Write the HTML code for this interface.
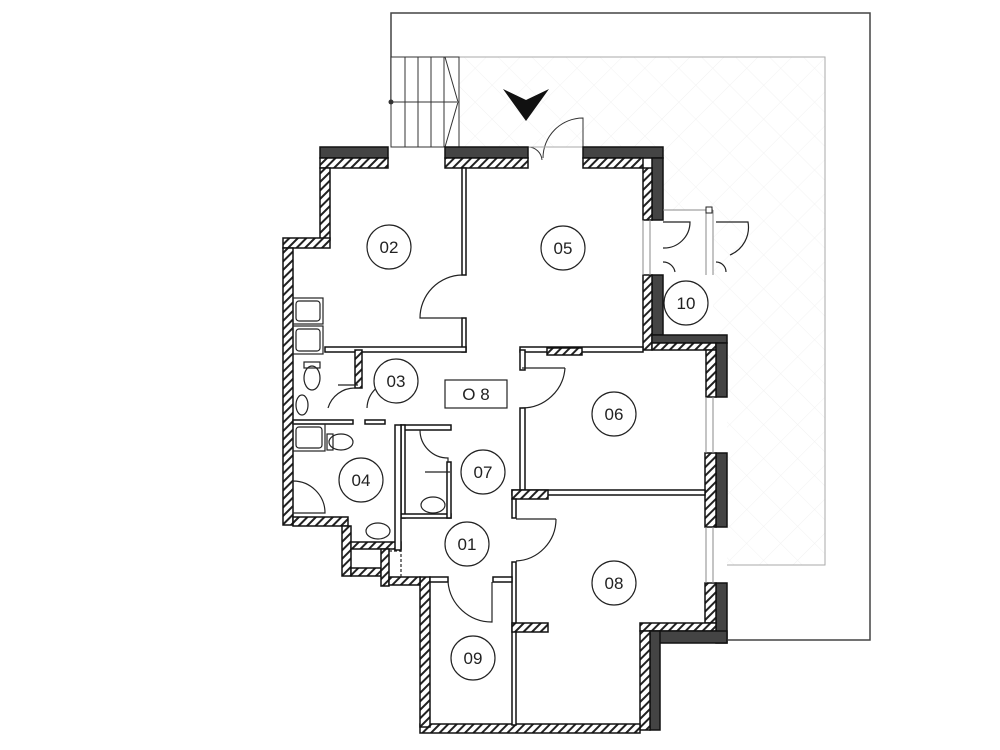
<!DOCTYPE html>
<html><head><meta charset="utf-8"><style>
html,body{margin:0;padding:0;background:#fff}
svg{display:block}
text{font-family:"Liberation Sans",sans-serif;font-size:17px;fill:#222}
</style></head><body>
<svg width="1000" height="750" viewBox="0 0 1000 750" xmlns="http://www.w3.org/2000/svg">
<defs>
<pattern id="h" width="6" height="6" patternUnits="userSpaceOnUse" patternTransform="rotate(45)">
<rect width="6" height="6" fill="#fff"/><rect width="2" height="6" fill="#222"/>
</pattern>
<pattern id="x" width="24" height="24" patternUnits="userSpaceOnUse" patternTransform="rotate(45)">
<rect width="24" height="24" fill="#fff"/><path d="M0 0H24M0 0V24" stroke="#f2f2f2" stroke-width="1"/>
</pattern>
</defs>
<!-- terrace -->
<path d="M391 100V13H870V640H728" fill="none" stroke="#444" stroke-width="1.5"/>
<rect x="459" y="57" width="366" height="508" fill="url(#x)" stroke="#aaa" stroke-width="1"/>
<!-- house interior white -->
<polygon points="283,238 320,238 320,147 663,147 663,210 713,210 713,335 727,335 727,643 660,643 660,733 420,733 420,585 381,585 381,576 342,576 342,525 283,525" fill="#fff"/>
<!-- stairs -->
<rect x="391" y="57" width="68" height="90" fill="#fff" stroke="#333"/>
<path d="M405 57V147M418 57V147M431 57V147M444 57V147M391 102H457M445 57L458 102L445 147" stroke="#333" fill="none"/>
<circle cx="391" cy="102" r="2.5" fill="#333"/>
<!-- entrance arrow -->
<polygon points="503,89 526,100 549,89 526,121" fill="#111"/>
<!-- entrance door -->
<path d="M583 147V118A40 40 0 0 0 543 158M528 147A14 14 0 0 1 542 160" fill="none" stroke="#333"/>
<line x1="527" y1="147" x2="583" y2="147" stroke="#aaa"/>

<g stroke="#111" stroke-width="1.5">
<rect x="320" y="147" width="68" height="11" fill="#444"/>
<rect x="320" y="158" width="68" height="10" fill="url(#h)"/>
<rect x="445" y="147" width="83" height="11" fill="#444"/>
<rect x="445" y="158" width="83" height="10" fill="url(#h)"/>
<rect x="583" y="147" width="80" height="11" fill="#444"/>
<rect x="583" y="158" width="60" height="10" fill="url(#h)"/>
<rect x="652" y="158" width="11" height="62" fill="#444"/>
<rect x="643" y="168" width="9" height="52" fill="url(#h)"/>
<rect x="320" y="168" width="10" height="72" fill="url(#h)"/>
<rect x="283" y="238" width="47" height="10" fill="url(#h)"/>
<rect x="283" y="248" width="10" height="277" fill="url(#h)"/>
<rect x="652" y="275" width="11" height="60" fill="#444"/>
<rect x="643" y="275" width="9" height="75" fill="url(#h)"/>
<rect x="652" y="335" width="75" height="8" fill="#444"/>
<rect x="652" y="343" width="64" height="7" fill="url(#h)"/>
<rect x="716" y="343" width="11" height="54" fill="#444"/>
<rect x="706" y="350" width="10" height="47" fill="url(#h)"/>
<rect x="716" y="453" width="11" height="74" fill="#444"/>
<rect x="705" y="453" width="11" height="74" fill="url(#h)"/>
<rect x="716" y="583" width="11" height="60" fill="#444"/>
<rect x="705" y="583" width="11" height="40" fill="url(#h)"/>
<rect x="640" y="623" width="76" height="8" fill="url(#h)"/>
<rect x="650" y="631" width="77" height="12" fill="#444"/>
<rect x="650" y="631" width="10" height="99" fill="#444"/>
<rect x="640" y="631" width="10" height="99" fill="url(#h)"/>
<rect x="420" y="724" width="220" height="9" fill="url(#h)"/>
<rect x="420" y="577" width="10" height="150" fill="url(#h)"/>
<rect x="462" y="168" width="4" height="107" fill="#fff"/>
<rect x="462" y="318" width="4" height="34" fill="#fff"/>
<rect x="325" y="347" width="141" height="5" fill="#fff"/>
<rect x="355" y="350" width="7" height="38" fill="url(#h)"/>
<rect x="520" y="347" width="123" height="5" fill="#fff"/>
<rect x="547" y="348" width="35" height="7" fill="url(#h)"/>
<rect x="520" y="350" width="5" height="20" fill="#fff"/>
<rect x="520" y="408" width="5" height="84" fill="#fff"/>
<rect x="512" y="490" width="193" height="5" fill="#fff"/>
<rect x="512" y="490" width="36" height="9" fill="url(#h)"/>
<rect x="512" y="499" width="4" height="19" fill="#fff"/>
<rect x="512" y="562" width="4" height="163" fill="#fff"/>
<rect x="512" y="623" width="36" height="9" fill="url(#h)"/>
<rect x="430" y="577" width="18" height="5" fill="#fff"/>
<rect x="493" y="577" width="19" height="5" fill="#fff"/>
<rect x="401" y="425" width="50" height="5" fill="#fff"/>
<rect x="401" y="425" width="4" height="93" fill="#fff"/>
<rect x="401" y="514" width="50" height="4" fill="#fff"/>
<rect x="447" y="462" width="4" height="56" fill="#fff"/>
<rect x="293" y="420" width="60" height="4" fill="#fff"/>
<rect x="365" y="420" width="20" height="4" fill="#fff"/>
<rect x="293" y="517" width="55" height="9" fill="url(#h)"/>
<rect x="342" y="526" width="9" height="50" fill="url(#h)"/>
<rect x="351" y="542" width="50" height="7" fill="url(#h)"/>
<rect x="395" y="425" width="6" height="125" fill="#fff"/>
<rect x="351" y="568" width="30" height="8" fill="url(#h)"/>
<rect x="381" y="549" width="8" height="37" fill="url(#h)"/>
<rect x="389" y="577" width="31" height="8" fill="url(#h)"/>
</g>
<path d="M643 220V275M650 220V275M706 210V275M713 210V275M706 397V453M713 397V453M706 527V583M713 527V583M663 210H713" stroke="#888" fill="none"/>
<rect x="706" y="207" width="6" height="6" fill="#fff" stroke="#222"/>
<g fill="none" stroke="#222" stroke-width="1.2">
<path d="M462 275A43 43 0 0 0 420 318H462"/>
<path d="M565 368H522M565 368A43 43 0 0 1 522 408"/>
<path d="M556 519H516M556 519A42 42 0 0 1 516 561"/>
<path d="M492 582V622A44 44 0 0 1 448 582"/>
<path d="M420 430A28 28 0 0 0 448 458V462"/>
<path d="M328 408A28 28 0 0 1 355 388M395 381A28 28 0 0 0 367 408"/>
<path d="M663 222H690A26 26 0 0 1 663 248M663 262A12 12 0 0 1 675 272"/>
<path d="M716 222H748A30 30 0 0 1 730 255M716 262A10 10 0 0 1 726 272"/>
<path d="M338 385H358M425 472H450"/>
<rect x="389" y="551" width="12" height="26" stroke-dasharray="3 2"/>
<rect x="293" y="298" width="30" height="26"/><rect x="296" y="301" width="24" height="20" rx="3"/>
<rect x="293" y="326" width="30" height="28"/><rect x="296" y="329" width="24" height="22" rx="3"/>
<rect x="293" y="424" width="32" height="27"/><rect x="296" y="427" width="26" height="21" rx="3"/>
<ellipse cx="312" cy="378" rx="8" ry="12"/><rect x="304" y="362" width="16" height="6"/>
<ellipse cx="341" cy="442" rx="12" ry="8"/><rect x="327" y="434" width="6" height="16"/>
<ellipse cx="302" cy="405" rx="6" ry="10"/>
<path d="M293 481A32 32 0 0 1 325 513H293Z"/>
<ellipse cx="378" cy="531" rx="12" ry="8"/><ellipse cx="433" cy="505" rx="12" ry="8"/>
</g>
<g fill="#fff" stroke="#222" stroke-width="1.2">
<circle cx="389" cy="247" r="22"/><circle cx="563" cy="248" r="22"/><circle cx="686" cy="303" r="22"/>
<circle cx="396" cy="381" r="22"/><circle cx="614" cy="414" r="22"/><circle cx="361" cy="480" r="22"/>
<circle cx="483" cy="472" r="22"/><circle cx="467" cy="544" r="22"/><circle cx="614" cy="583" r="22"/>
<circle cx="473" cy="658" r="22"/>
<rect x="445" y="380" width="62" height="28"/>
</g>
<g text-anchor="middle">
<text x="389" y="253">02</text><text x="563" y="254">05</text><text x="686" y="309">10</text>
<text x="396" y="387">03</text><text x="614" y="420">06</text><text x="361" y="486">04</text>
<text x="483" y="478">07</text><text x="467" y="550">01</text><text x="614" y="589">08</text>
<text x="473" y="664">09</text><text x="476" y="400">O 8</text>
</g>
</svg>
</body></html>
